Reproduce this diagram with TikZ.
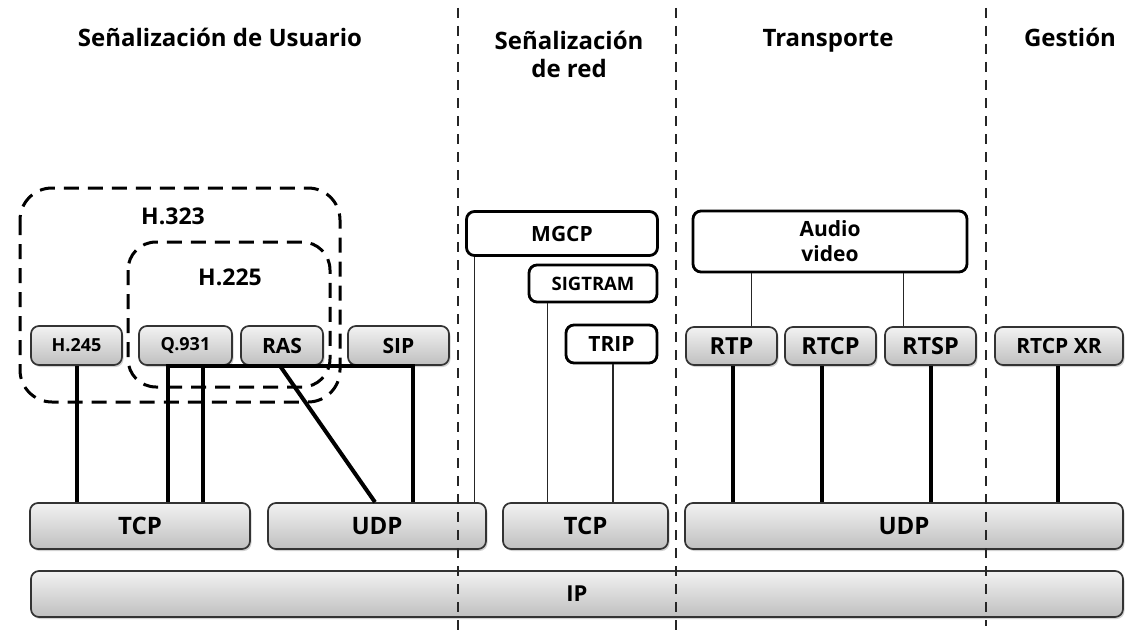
\documentclass[tikz,border=0pt]{standalone}
\usepackage{fontspec}
\setmainfont{Open Sans}
\usetikzlibrary{shadows,calc}
\newcommand{\fs}[1]{\bfseries\fontsize{#1}{#1}\selectfont}
\tikzset{
  graybox/.style={draw=black!80, line width=1.7pt, rounded corners=8pt,
    top color=gray!10, bottom color=gray!50,
    drop shadow={opacity=0.35, shadow xshift=1.5pt, shadow yshift=-2pt},
    inner sep=0pt, text=black},
  whitebox/.style={draw=black, line width=2.8pt, rounded corners=8pt, fill=white,
    inner sep=0pt, align=center},
  heavy/.style={line width=4pt, black},
  lightline/.style={line width=1.6pt, black!85},
  grp/.style={line width=3pt, dash pattern=on 15pt off 9pt, rounded corners=32pt},
  sep/.style={line width=1.6pt, black!85, dash pattern=on 10pt off 8pt},
  hdr/.style={font=\bfseries\fontsize{24}{28}\selectfont, align=center, anchor=base, inner sep=0pt},
  grplabel/.style={font=\fs{23}}
}
\begin{document}
\begin{tikzpicture}[x=1pt,y=-1pt]
\useasboundingbox[fill=white] (0,0) rectangle (1142,634);

% headers
\node[hdr] (hUser) at (220,47) {Señalización de Usuario};
\node[hdr, anchor=north] (hRed) at (569,31) {Señalización\\de red};
\node[hdr] (hTrans) at (828,47) {Transporte};
\node[hdr] (hGest) at (1070,47) {Gestión};

% group boxes
\draw[grp] (20,188) rectangle (340,402);
\draw[grp, rounded corners=28pt] (128,242) rectangle (330,387);
\node[grplabel] (l323) at (173,216) {H.323};
\node[grplabel] (l225) at (230,277) {H.225};

% bottom layers
\node[graybox, minimum width=220pt, minimum height=46pt, font=\fs{24}] (tcpA) at (140,526) {TCP};
\node[graybox, minimum width=218pt, minimum height=46pt, font=\fs{24}] (udpA) at (377,526) {UDP};
\node[graybox, minimum width=165pt, minimum height=46pt, font=\fs{24}] (tcpB) at (585.5,526) {TCP};
\node[graybox, minimum width=438pt, minimum height=46pt, font=\fs{24}] (udpB) at (904,526) {UDP};
\node[graybox, minimum width=1092pt, minimum height=46pt, font=\fs{22}] (ip) at (577,594) {IP};

% user signalling protocols
\node[graybox, minimum width=91pt, minimum height=39pt, font=\fs{18}] (h245) at (76.5,345.5) {H.245};
\node[graybox, minimum width=93pt, minimum height=39pt, font=\fs{18}] (q931) at (185.5,345.5) {Q.931};
\node[graybox, minimum width=82pt, minimum height=39pt, font=\fs{21}] (ras) at (282,345.5) {RAS};
\node[graybox, minimum width=101pt, minimum height=39pt, font=\fs{21}] (sip) at (398.5,345.5) {SIP};

% network signalling
\node[whitebox, minimum width=191pt, minimum height=44pt, font=\fs{21}] (mgcp) at (562,233.5) {MGCP};
\node[whitebox, minimum width=128pt, minimum height=37pt, font=\fs{18.5}] (sigtram) at (593,283.5) {SIGTRAM};
\node[whitebox, minimum width=91pt, minimum height=38pt, font=\fs{21}] (trip) at (611.5,344) {TRIP};

% transport
\node[whitebox, minimum width=274pt, minimum height=61pt, font=\bfseries\fontsize{21}{25}\selectfont] (av) at (830,241.5) {Audio\\video};
\node[graybox, minimum width=91pt, minimum height=38pt, font=\fs{23.5}] (rtp) at (731.5,346) {RTP};
\node[graybox, minimum width=91pt, minimum height=38pt, font=\fs{23.5}] (rtcp) at (830.5,346) {RTCP};
\node[graybox, minimum width=91pt, minimum height=38pt, font=\fs{23.5}] (rtsp) at (930.5,346) {RTSP};
\node[graybox, minimum width=128pt, minimum height=38pt, font=\fs{21}] (rtcpxr) at (1059,346) {RTCP XR};

% user signalling connectors
\draw[heavy] (h245.south) -- (h245.south |- tcpA.north);
\coordinate (b1) at ([xshift=-17.5pt]q931.south);
\coordinate (b2) at ([xshift=17.5pt]q931.south);
\coordinate (b3) at ([xshift=14.5pt]sip.south);
\draw[heavy, line cap=rect] (b1) -- (b3);
\draw[heavy] (b1) -- (b1 |- tcpA.north);
\draw[heavy] (b2) -- (b2 |- tcpA.north);
\draw[heavy] (b3) -- (b3 |- udpA.north);
\draw[heavy] ([xshift=-2pt]ras.south) -- ([xshift=-2pt]udpA.north);

% network signalling connectors
\coordinate (m1) at ([xshift=9.5pt]mgcp.south west);
\draw[lightline] (m1) -- (m1 |- udpA.north);
\coordinate (s1) at ([xshift=20pt]sigtram.south west);
\draw[lightline] (s1) -- (s1 |- tcpB.north);
\coordinate (t1) at ([xshift=1.5pt]trip.south);
\draw[lightline] (t1) -- (t1 |- tcpB.north);

% transport connectors
\coordinate (a1) at ([xshift=60pt]av.south west);
\coordinate (a2) at ([xshift=-65pt]av.south east);
\draw[lightline] (a1) -- (a1 |- rtp.north);
\draw[lightline] (a2) -- (a2 |- rtsp.north);
\draw[heavy] ([xshift=1.5pt]rtp.south) -- ([xshift=1.5pt]rtp.south |- udpB.north);
\draw[heavy] ([xshift=-8.5pt]rtcp.south) -- ([xshift=-8.5pt]rtcp.south |- udpB.north);
\draw[heavy] (rtsp.south) -- (rtsp.south |- udpB.north);
\draw[heavy] ([xshift=-1pt]rtcpxr.south) -- ([xshift=-1pt]rtcpxr.south |- udpB.north);

% separators
\coordinate (d1t) at (458,8); \coordinate (d1b) at (458,634);
\coordinate (d2t) at (676,8); \coordinate (d2b) at (676,634);
\coordinate (d3t) at (986,8); \coordinate (d3b) at (986,626);
\draw[sep] (d1t) -- (d1b);
\draw[sep] (d2t) -- (d2b);
\draw[sep] (d3t) -- (d3b);
\end{tikzpicture}
\end{document}
